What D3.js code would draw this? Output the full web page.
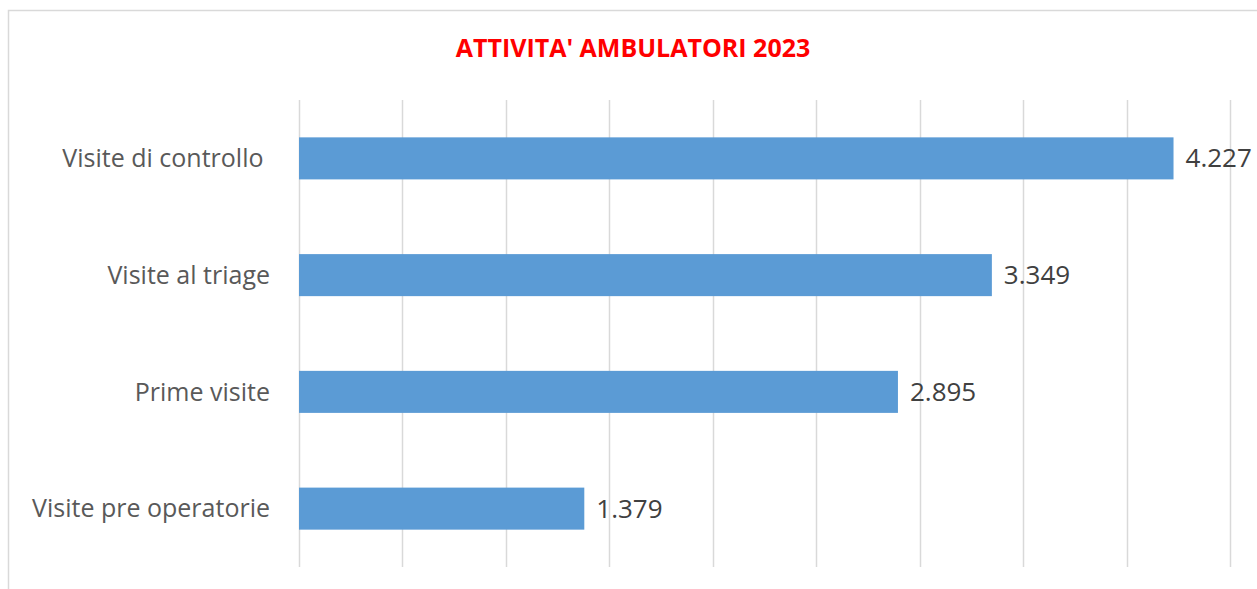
<!DOCTYPE html>
<html>
<head>
<meta charset="utf-8">
<script src="https://cdn.jsdelivr.net/npm/d3@7"></script>
<style>
  body { margin: 0; background: #fff; }
  svg { display: block; }
</style>
</head>
<body>
<div id="chart"></div>
<script>
// data, top to bottom as shown
var categories = ["Visite di controllo ", "Visite al triage", "Prime visite", "Visite pre operatorie"];
var values = [4227, 3349, 2895, 1379];
var gridTicks = [0, 500, 1000, 1500, 2000, 2500, 3000, 3500, 4000, 4500];
var title = "ATTIVITA' AMBULATORI 2023";

var W = 1257, H = 589;
var margin = { top: 100, right: 27, bottom: 22, left: 299 },
  width = W - margin.left - margin.right,
  height = H - margin.top - margin.bottom;

var it = d3.formatLocale({ decimal: ",", thousands: ".", grouping: [3], currency: ["€", ""] });
var fmt = it.format(",d");

var svg = d3
  .select("#chart")
  .append("svg")
  .attr("width", W)
  .attr("height", H);

// chart border
svg
  .append("rect")
  .attr("x", 8.5)
  .attr("y", 10.5)
  .attr("width", 1300)
  .attr("height", 700)
  .attr("fill", "none")
  .attr("stroke", "#d9d9d9")
  .attr("stroke-width", 1.5);

svg
  .append("text")
  .attr("x", 633)
  .attr("y", 57)
  .attr("text-anchor", "middle")
  .style("font-family", "'Open Sans', sans-serif")
  .style("font-weight", "bold")
  .style("font-size", "25px")
  .style("fill", "#ff0000")
  .text(title);

var g = svg.append("g").attr("transform", "translate(" + margin.left + "," + margin.top + ")");

var x = d3.scaleLinear().domain([0, 4500]).range([0, width]);
var y = d3.scaleBand().domain(categories).range([0, height]).paddingInner(0.64).paddingOuter(0.32);

// vertical gridlines
g.selectAll(".grid")
  .data(gridTicks)
  .enter()
  .append("line")
  .attr("class", "grid")
  .attr("x1", (d) => Math.round(x(d)) + 0.5)
  .attr("x2", (d) => Math.round(x(d)) + 0.5)
  .attr("y1", 0)
  .attr("y2", height)
  .attr("stroke", "#d9d9d9")
  .attr("stroke-width", 1.5);

// bars
g.selectAll(".bar")
  .data(values)
  .enter()
  .append("rect")
  .attr("class", "bar")
  .attr("x", x(0))
  .attr("y", (d, i) => y(categories[i]))
  .attr("width", (d) => x(d))
  .attr("height", y.bandwidth())
  .attr("fill", "#5b9bd5");

// value labels
g.selectAll(".val")
  .data(values)
  .enter()
  .append("text")
  .attr("class", "val")
  .attr("x", (d) => x(d) + 12)
  .attr("y", (d, i) => y(categories[i]) + y.bandwidth() / 2)
  .attr("dy", "0.35em")
  .style("font-family", "'Open Sans', sans-serif")
  .style("font-size", "26px")
  .style("fill", "#404040")
  .text((d) => fmt(d));

// category labels
g.selectAll(".cat")
  .data(categories)
  .enter()
  .append("text")
  .attr("class", "cat")
  .attr("x", -29)
  .attr("y", (d) => y(d) + y.bandwidth() / 2)
  .attr("dy", "0.35em")
  .attr("text-anchor", "end")
  .style("white-space", "pre")
  .style("font-family", "'Open Sans', sans-serif")
  .style("font-size", "25px")
  .style("fill", "#595959")
  .text((d) => d);
</script>
</body>
</html>
